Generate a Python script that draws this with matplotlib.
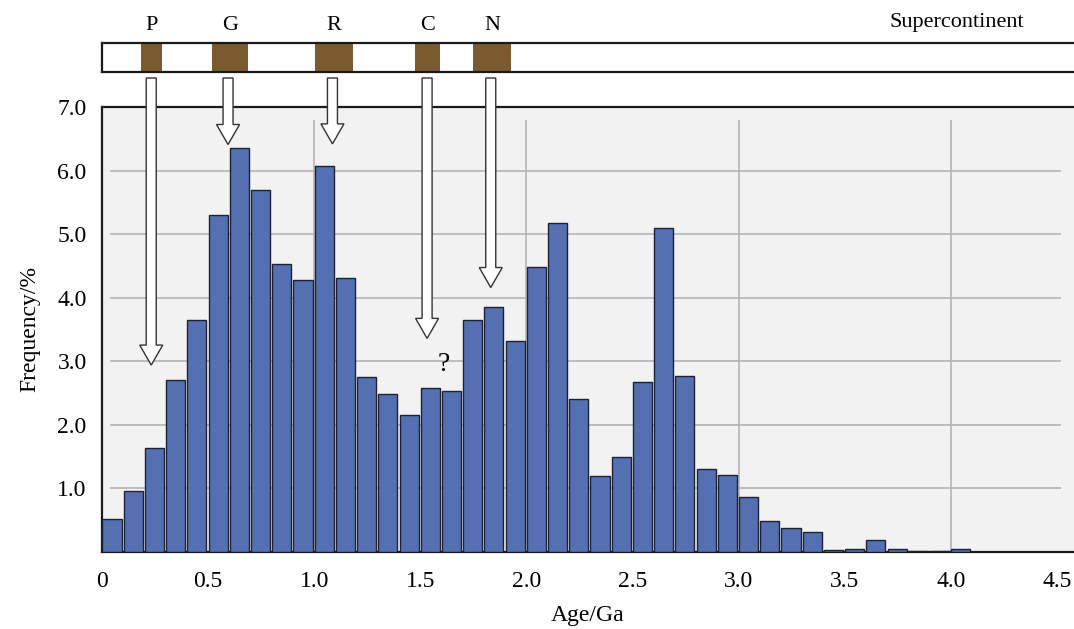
import matplotlib
matplotlib.use("Agg")
import matplotlib.pyplot as plt
from matplotlib.patches import FancyArrow, Rectangle
import numpy as np

# ---- data ----
bin_starts = [round(0.1 * i, 1) for i in range(41)]
frequency = [0.52, 0.965, 1.64, 2.71, 3.65, 5.30, 6.35, 5.70, 4.53, 4.28,
             6.07, 4.31, 2.75, 2.49, 2.16, 2.58, 2.53, 3.65, 3.85, 3.32,
             4.49, 5.18, 2.40, 1.20, 1.49, 2.67, 5.10, 2.77, 1.31, 1.21,
             0.87, 0.49, 0.38, 0.31, 0.03, 0.05, 0.19, 0.04, 0.02, 0.02, 0.04]
x_ticks = [0, 0.5, 1.0, 1.5, 2.0, 2.5, 3.0, 3.5, 4.0, 4.5]
x_ticklabels = ["0", "0.5", "1.0", "1.5", "2.0", "2.5", "3.0", "3.5", "4.0", "4.5"]
y_ticks = [1, 2, 3, 4, 5, 6, 7]
y_ticklabels = ["1.0", "2.0", "3.0", "4.0", "5.0", "6.0", "7.0"]

sc_labels = ["P", "G", "R", "C", "N"]
sc_start = [0.183, 0.518, 1.004, 1.475, 1.748]
sc_end = [0.282, 0.687, 1.182, 1.594, 1.928]
arrow_x = [0.232, 0.594, 1.086, 1.532, 1.832]
arrow_tip = [2.94, 6.41, 6.42, 3.36, 4.16]

FONT = "Liberation Serif"
plt.rcParams["font.family"] = [FONT, "DejaVu Serif"]

W, H = 1074, 629
fig = plt.figure(figsize=(W / 100, H / 100), dpi=100)

x_left, x_right = 102, 1074
y_top, y_bot = 107, 552
ax = fig.add_axes([x_left / W, 1 - y_bot / H, (x_right - x_left) / W, (y_bot - y_top) / H])
px_per_ga = 212.2
xmax = (x_right - x_left) / px_per_ga
ax.set_xlim(0, xmax)
ax.set_ylim(0, 7)
ax.set_facecolor("#f2f2f2")

ax.spines["right"].set_visible(False)
for s in ["left", "top", "bottom"]:
    ax.spines[s].set_linewidth(1.6)
    ax.spines[s].set_color("#1a1a1a")

# gridlines
ax.hlines([1, 2, 3, 4, 5, 6], 0.04, 4.52, color="#b4b4b4", lw=1.2, zorder=1)
ax.vlines([1, 2, 3, 4], 0, 6.8, color="#b4b4b4", lw=1.2, zorder=1)

# bars
ax.bar([b + 0.002 for b in bin_starts], frequency, width=0.09, align="edge",
       color="#5470b3", edgecolor="#1c2233", linewidth=1.0, zorder=3)

ax.set_xticks(x_ticks)
ax.set_xticklabels(x_ticklabels, fontsize=17)
ax.set_yticks(y_ticks)
ax.set_yticklabels(y_ticklabels, fontsize=17)
ax.tick_params(axis="both", length=0)
ax.tick_params(axis="x", pad=14)
ax.tick_params(axis="y", pad=11)

ax.set_xlabel("Age/Ga", fontsize=17, labelpad=9)
ax.set_ylabel("Frequency/%", fontsize=17, labelpad=12)

# question mark
ax.text(1.61, 2.95, "?", fontsize=20, ha="center", va="center", zorder=5)

# supercontinent bar
sy_top, sy_bot = 43, 72
axs = fig.add_axes([x_left / W, 1 - sy_bot / H, (x_right - x_left) / W, (sy_bot - sy_top) / H])
axs.set_xlim(0, xmax)
axs.set_ylim(0, 1)
axs.set_xticks([])
axs.set_yticks([])
axs.spines["right"].set_visible(False)
for s in ["left", "top", "bottom"]:
    axs.spines[s].set_linewidth(1.6)
    axs.spines[s].set_color("#1a1a1a")
for lab, s0, s1 in zip(sc_labels, sc_start, sc_end):
    axs.add_patch(Rectangle((s0, 0), s1 - s0, 1, facecolor="#7a5b2f", edgecolor="none"))
    axs.text((s0 + s1) / 2, 1.6, lab, fontsize=16, ha="center", va="center", clip_on=False)
axs.text((957 - x_left) / px_per_ga, 1.7, "Supercontinent", fontsize=16,
         ha="center", va="center", clip_on=False)

# arrows (hollow)
px_per_unit_y = (y_bot - y_top) / 7.0
y_start = 7.0 + (y_top - 78) / px_per_unit_y
shaft_w = 10 / px_per_ga
head_w = 23 / px_per_ga
head_l = 20 / px_per_unit_y
for xa, tip in zip(arrow_x, arrow_tip):
    arr = FancyArrow(xa, y_start, 0, tip - y_start, width=shaft_w, head_width=head_w,
                     head_length=head_l, length_includes_head=True,
                     facecolor="white", edgecolor="#333333", linewidth=1.0,
                     clip_on=False, zorder=6)
    ax.add_patch(arr)

fig.savefig("out.png", dpi=100)
